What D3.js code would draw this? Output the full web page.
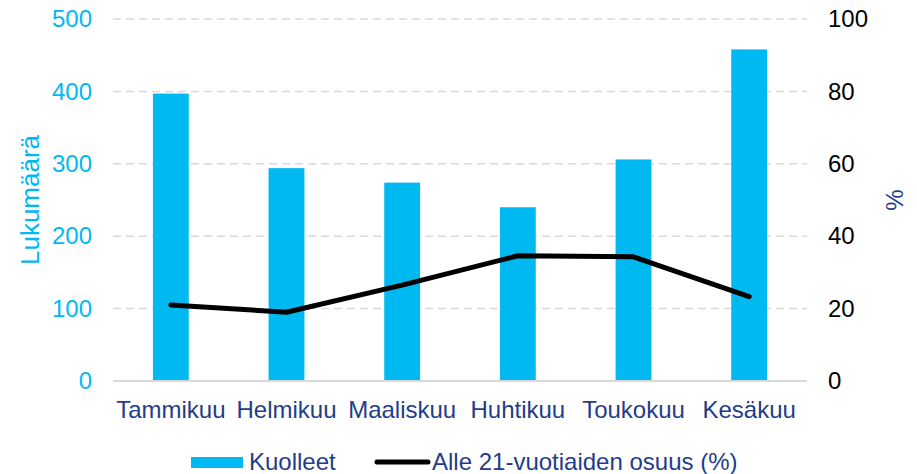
<!DOCTYPE html>
<html>
<head>
<meta charset="utf-8">
<script src="https://cdn.jsdelivr.net/npm/d3@7"></script>
<style>
  body { margin: 0; background: #fff; }
  text { font-family: "Liberation Sans", Arial, sans-serif; }
</style>
</head>
<body>
<div id="chart"></div>
<script>
// months (finnish) and the two series
var months = ["Tammikuu", "Helmikuu", "Maaliskuu", "Huhtikuu", "Toukokuu", "Kesäkuu"];
var deaths = [397, 294, 274, 240, 306, 458];
var under21Share = [21.0, 19.0, 26.5, 34.6, 34.3, 23.3];
var leftTicks = [0, 100, 200, 300, 400, 500];
var rightTicks = [0, 20, 40, 60, 80, 100];
var seriesNames = ["Kuolleet", "Alle 21-vuotiaiden osuus (%)"];

var outerWidth = 917,
    outerHeight = 474,
    margin = {top: 19, right: 110, bottom: 93, left: 113},
    width = outerWidth - margin.left - margin.right,
    height = outerHeight - margin.top - margin.bottom,
    fontSize = "24px";

var cyan = "#00B9F1",
    navy = "#1F3D8A",
    grid = "#D9D9D9";

var svg = d3.select("#chart").append("svg")
    .attr("width", outerWidth)
    .attr("height", outerHeight);

var g = svg.append("g")
    .attr("transform", "translate(" + margin.left + "," + margin.top + ")");

// scales
var x = d3.scaleBand()
    .domain(months)
    .range([0, width])
    .paddingInner(0.69)
    .paddingOuter(0.345);

var xc = d3.scalePoint()
    .domain(months)
    .range([0, width])
    .padding(0.5);

var yLeft = d3.scaleLinear().domain([0, 500]).range([height, 0]);
var yRight = d3.scaleLinear().domain([0, 100]).range([height, 0]);

// dashed gridlines (skip the zero line, drawn solid below)
g.append("g")
    .selectAll("line")
    .data(leftTicks.slice(1))
    .join("line")
    .attr("x1", 0)
    .attr("x2", width)
    .attr("y1", d => yLeft(d))
    .attr("y2", d => yLeft(d))
    .attr("stroke", grid)
    .attr("stroke-width", 1.5)
    .attr("stroke-dasharray", "8,5");

// bars
g.append("g")
    .selectAll("rect")
    .data(deaths)
    .join("rect")
    .attr("x", (d, i) => x(months[i]))
    .attr("y", d => yLeft(d))
    .attr("width", x.bandwidth())
    .attr("height", d => height - yLeft(d))
    .attr("fill", cyan);

// baseline
g.append("line")
    .attr("x1", 0)
    .attr("x2", width)
    .attr("y1", height)
    .attr("y2", height)
    .attr("stroke", grid)
    .attr("stroke-width", 2);

// share line
var line = d3.line()
    .x((d, i) => xc(months[i]))
    .y(d => yRight(d));

g.append("path")
    .datum(under21Share)
    .attr("d", line)
    .attr("fill", "none")
    .attr("stroke", "#000")
    .attr("stroke-width", 5)
    .attr("stroke-linecap", "round")
    .attr("stroke-linejoin", "round");

// axes
var xAxis = g.append("g")
    .attr("transform", "translate(0," + height + ")")
    .call(d3.axisBottom(x).tickSize(0).tickPadding(20));

xAxis.selectAll("text")
    .attr("fill", navy)
    .style("font-size", fontSize);

var leftAxis = g.append("g")
    .call(d3.axisLeft(yLeft).tickValues(leftTicks).tickSize(0).tickPadding(21));

leftAxis.selectAll("text")
    .attr("fill", cyan)
    .style("font-size", fontSize);

var rightAxis = g.append("g")
    .attr("transform", "translate(" + width + ",0)")
    .call(d3.axisRight(yRight).tickValues(rightTicks).tickSize(0).tickPadding(21));

rightAxis.selectAll("text")
    .attr("fill", "#000")
    .style("font-size", fontSize);

g.selectAll(".domain").remove();

// axis titles
svg.append("text")
    .attr("transform", "translate(39," + (margin.top + height / 2) + ") rotate(-90)")
    .attr("text-anchor", "middle")
    .attr("fill", cyan)
    .style("font-size", "26px")
    .text("Lukumäärä");

svg.append("text")
    .attr("transform", "translate(903," + (margin.top + height / 2) + ") rotate(-90)")
    .attr("text-anchor", "middle")
    .attr("fill", navy)
    .style("font-size", fontSize)
    .text("%");

// legend
var legend = svg.append("g").attr("transform", "translate(0,462)");

legend.append("rect")
    .attr("x", 191)
    .attr("y", -5)
    .attr("width", 52)
    .attr("height", 11)
    .attr("fill", cyan);

legend.append("text")
    .attr("x", 249)
    .attr("y", 8)
    .attr("fill", navy)
    .style("font-size", fontSize)
    .text(seriesNames[0]);

legend.append("line")
    .attr("x1", 377)
    .attr("x2", 428)
    .attr("y1", 0)
    .attr("y2", 0)
    .attr("stroke", "#000")
    .attr("stroke-width", 5)
    .attr("stroke-linecap", "round");

legend.append("text")
    .attr("x", 432)
    .attr("y", 8)
    .attr("fill", navy)
    .style("font-size", fontSize)
    .text(seriesNames[1]);
</script>
</body>
</html>
